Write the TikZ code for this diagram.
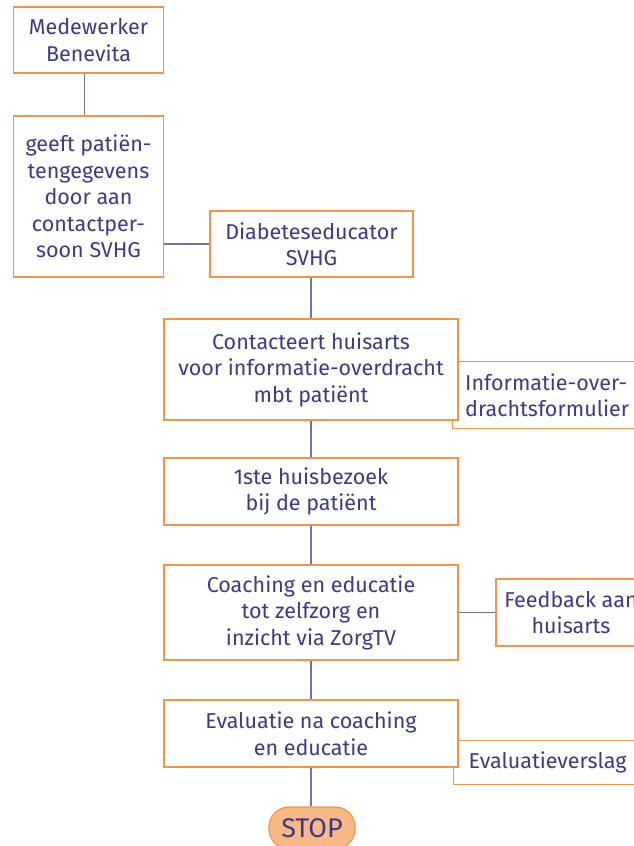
\documentclass[tikz,border=0pt]{standalone}
\usepackage{fontspec}
\setmainfont{Fira Sans}
\usetikzlibrary{calc}
\definecolor{txt}{HTML}{3B3A8E}
\definecolor{brd}{HTML}{F4934A}
\definecolor{lnk}{HTML}{7272B2}
\definecolor{stopfill}{HTML}{F9B986}
\tikzset{
  box/.style={draw=brd, line width=1.4pt, fill=white, text=txt, align=center, inner sep=2pt,
    font=\fontsize{21.5}{26.5}\selectfont},
  sidebox/.style={box, anchor=north west, align=left},
  link/.style={draw=lnk, line width=1.2pt},
  stopbox/.style={draw=brd, line width=1.2pt, fill=stopfill, text=txt, rounded corners=20pt,
    font=\fontsize{27}{30}\selectfont, minimum width=86, minimum height=42, inner sep=1pt}
}
\begin{document}
\begin{tikzpicture}[x=1pt,y=-1pt]
\useasboundingbox (0,0) rectangle (634,846);
\clip (0,0) rectangle (634,846);
% side boxes drawn first (behind)
\node[sidebox, minimum width=215, minimum height=67, text width=190, inner xsep=11pt] (info) at (452,361) {Informatie-over-\\drachtsformulier};
\node[sidebox, minimum width=210, minimum height=44, text width=190, inner xsep=15pt] (versl) at (453,740) {Evaluatieverslag};
% main boxes
\node[box, minimum width=150, minimum height=66] (med) at (88.5,40) {Medewerker\\Benevita};
\node[box, minimum width=150, minimum height=161] (geeft) at (88.5,196.5) {geeft patiën-\\tengegevens\\door aan\\contactper-\\soon SVHG};
\node[box, minimum width=203, minimum height=66] (diab) at (311.5,244) {Diabeteseducator\\SVHG};
\node[box, minimum width=294, minimum height=101] (cont) at (311,369.5) {Contacteert huisarts\\voor informatie-overdracht\\mbt patiënt};
\node[box, minimum width=294, minimum height=67] (huis) at (311,491.5) {1ste huisbezoek\\bij de patiënt};
\node[box, minimum width=294, minimum height=95] (coach) at (311,612.5) {Coaching en educatie\\tot zelfzorg en\\inzicht via ZorgTV};
\node[box, minimum width=150, minimum height=67] (feed) at (571,612.5) {Feedback aan\\huisarts};
\node[box, minimum width=294, minimum height=67] (eval) at (311,733.5) {Evaluatie na coaching\\en educatie};
\node[stopbox] (stop) at (312,828) {STOP};
% connectors
\draw[link] ([xshift=-4pt]med.south) -- ([xshift=-4pt]geeft.north);
\draw[link] (diab.west) -- (diab.west -| geeft.east);
\draw[link] (cont.north) -- (cont.north |- diab.south);
\draw[link] (cont.south) -- (huis.north);
\draw[link] (huis.south) -- (coach.north);
\draw[link] (coach.east) -- (feed.west);
\draw[link] (coach.south) -- (eval.north);
\draw[link] (eval.south) -- (eval.south |- stop.north);
\end{tikzpicture}
\end{document}
